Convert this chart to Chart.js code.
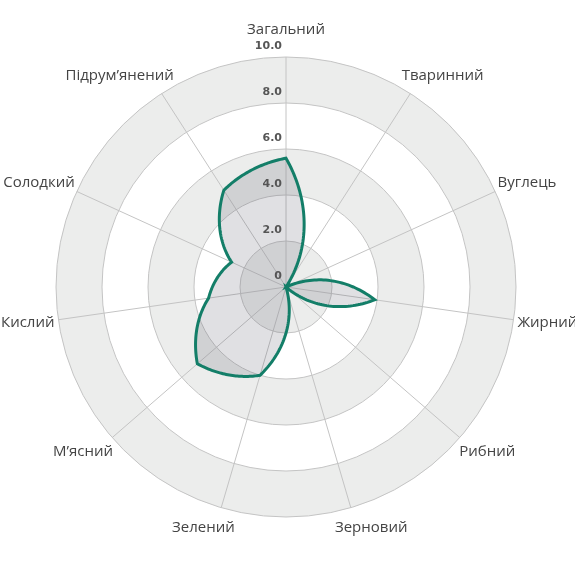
<!DOCTYPE html>
<html>
<head>
<meta charset="utf-8">
<script src="https://cdn.jsdelivr.net/npm/chart.js@4"></script>
<style>
  html, body { margin: 0; padding: 0; background: #fff; }
  #wrap { width: 575px; height: 575px; }
</style>
</head>
<body>
<div id="wrap"><canvas id="radarChart"></canvas></div>
<script>
const AXIS_LABELS = ['Загальний','Тваринний','Вуглець','Жирний','Рибний','Зерновий','Зелений','М’ясний','Кислий','Солодкий','Підрум’янений'];
const SCORES = [5.6, 0, 0, 3.9, 0, 0, 4.0, 5.1, 3.4, 2.6, 5.0];
const TICK_VALUES = [0, 2, 4, 6, 8, 10];
const TICK_LABELS = ['0','2.0','4.0','6.0','8.0','10.0'];

const LINE_COLOR = '#137e68';
const FILL_COLOR = 'rgba(100,100,115,0.2)';
const BAND_COLOR = '#ecedec';
const CURVE_STEPS = 40;

// shaded rings 0-2, 4-6, 8-10 under the grid
const bandsPlugin = {
  id: 'bands',
  beforeDraw(chart){
    const r = chart.scales.r;
    const ctx = chart.ctx;
    ctx.save();
    ctx.fillStyle = BAND_COLOR;
    for (let i = 0; i < TICK_VALUES.length - 1; i += 2) {
      const inner = r.getDistanceFromCenterForValue(TICK_VALUES[i]);
      const outer = r.getDistanceFromCenterForValue(TICK_VALUES[i+1]);
      ctx.beginPath();
      ctx.arc(r.xCenter, r.yCenter, outer, 0, Math.PI*2);
      if (inner > 0) ctx.arc(r.xCenter, r.yCenter, inner, 0, Math.PI*2, true);
      ctx.fill('evenodd');
    }
    ctx.restore();
  }
};

// the series line runs along the angle between axes (value interpolated
// in polar space), so it is traced through the radial scale
const polarCurvePlugin = {
  id: 'polarCurve',
  beforeDatasetDraw(chart, args){
    const r = chart.scales.r;
    const ds = chart.data.datasets[args.index];
    const vals = ds.data;
    const n = vals.length;
    const ctx = chart.ctx;
    ctx.save();
    ctx.beginPath();
    for (let i = 0; i < n; i++) {
      const a = vals[i], b = vals[(i + 1) % n];
      for (let s = 0; s < CURVE_STEPS; s++) {
        const t = s / CURVE_STEPS;
        const p = r.getPointPosition(i + t, r.getDistanceFromCenterForValue(a + (b - a) * t));
        if (i === 0 && s === 0) ctx.moveTo(p.x, p.y); else ctx.lineTo(p.x, p.y);
      }
    }
    ctx.closePath();
    ctx.fillStyle = FILL_COLOR;
    ctx.fill();
    ctx.lineWidth = ds.borderWidth;
    ctx.strokeStyle = ds.borderColor;
    ctx.lineJoin = 'miter';
    ctx.stroke();
    ctx.restore();
    return false;
  }
};

// tick labels just above each ring, left of the vertical axis;
// axis names outside the outer ring
const labelsPlugin = {
  id: 'labels',
  afterDatasetsDraw(chart){
    const r = chart.scales.r;
    const ctx = chart.ctx;
    ctx.save();
    ctx.font = 'bold 11px "DejaVu Sans"';
    ctx.fillStyle = '#555';
    ctx.textAlign = 'right';
    ctx.textBaseline = 'bottom';
    TICK_VALUES.forEach((v, i) => {
      const d = r.getDistanceFromCenterForValue(v);
      ctx.fillText(TICK_LABELS[i], r.xCenter - 4, r.yCenter - d - 5);
    });

    ctx.font = '15px "Open Sans"';
    ctx.fillStyle = '#444';
    ctx.textAlign = 'center';
    ctx.textBaseline = 'middle';
    AXIS_LABELS.forEach((label, i) => {
      const ang = r.getIndexAngle(i);
      const sin = Math.sin(ang), cos = Math.cos(ang);
      const w = ctx.measureText(label).width;
      const side = Math.abs(sin) < 0.01 ? 0 : Math.sign(sin);
      const x = r.xCenter + sin * (r.drawingArea + 4) + side * (w / 2) * Math.sqrt(Math.abs(sin));
      const y = r.yCenter - cos * (r.drawingArea + 21) - (i === 0 ? 6 : 0);
      ctx.fillText(label, x, y);
    });
    ctx.restore();
  }
};

new Chart(document.getElementById('radarChart'), {
  type: 'radar',
  data: {
    labels: AXIS_LABELS,
    datasets: [{
      data: SCORES,
      borderColor: LINE_COLOR,
      borderWidth: 3,
      fill: false,
      pointRadius: 0
    }]
  },
  options: {
    responsive: true,
    maintainAspectRatio: false,
    animation: false,
    layout: { padding: { top: 57, bottom: 58, left: 56, right: 59 } },
    plugins: { legend: { display: false }, tooltip: { enabled: false } },
    scales: {
      r: {
        min: 0,
        max: 10,
        ticks: { display: false, stepSize: 2 },
        grid: { circular: true, color: '#c4c4c4', lineWidth: 1 },
        angleLines: { color: '#c4c4c4', lineWidth: 1 },
        pointLabels: { display: false }
      }
    }
  },
  plugins: [bandsPlugin, polarCurvePlugin, labelsPlugin]
});
</script>
</body>
</html>
